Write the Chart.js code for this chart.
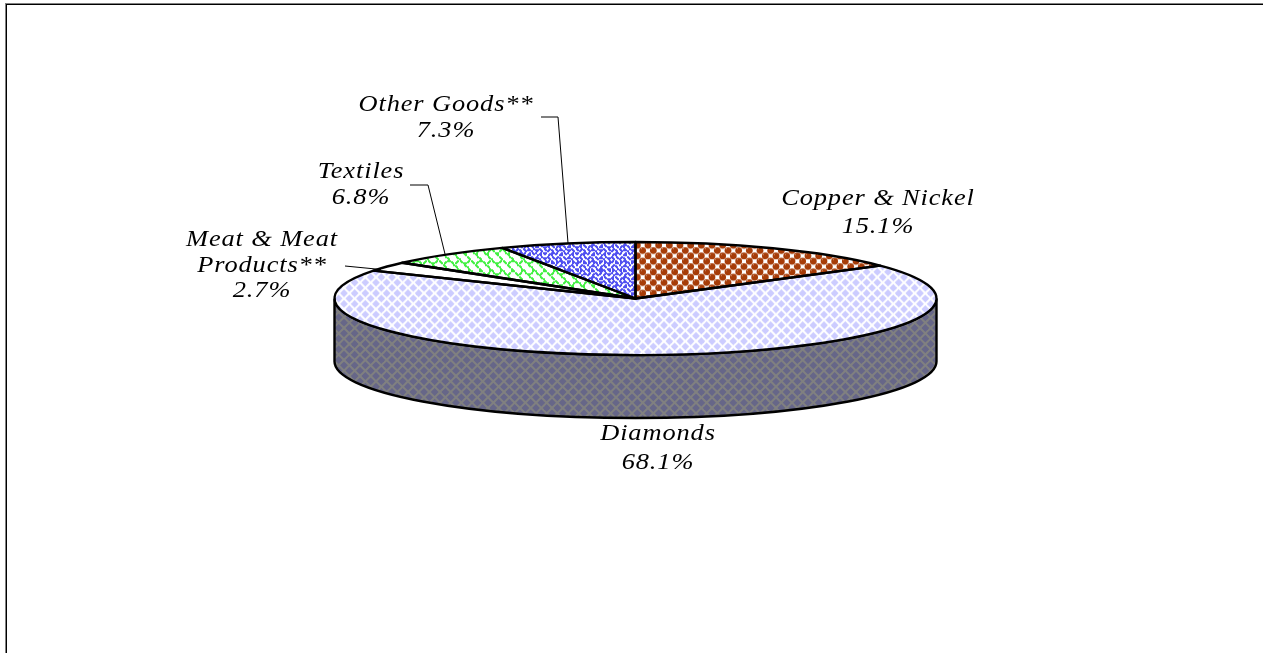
<!DOCTYPE html>
<html>
<head>
<meta charset="utf-8">
<title>Exports</title>
<script src="https://cdn.jsdelivr.net/npm/chart.js@4"></script>
<style>
    html, body { margin: 0; padding: 0; background: #fff; overflow: hidden; }
    canvas { display: block; }
</style>
</head>
<body>
<canvas id="chart" width="1263" height="653"></canvas>
<script>
// Data
const categories = ['Copper & Nickel', 'Diamonds', 'Meat & Meat Products**', 'Textiles', 'Other Goods**'];
const shares = [15.1, 68.1, 2.7, 6.8, 7.3];

// Where the labels and leader lines sit
const labelLines = [['Copper & Nickel'], ['Diamonds'], ['Meat & Meat', 'Products**'], ['Textiles'], ['Other Goods**']];
const labelCentres = [[878, 199], [658, 434], [262, 240], [361, 172], [446, 105]];
const labelLineGap = [28, 29, 25.5, 26, 26];
const leaders = [
    [[345, 266], [381, 269.5]],
    [[410, 185], [428, 185], [445, 254]],
    [[541, 117], [558, 117], [568, 243]]
];

// Pie is a flat circle squashed onto an ellipse, with a wall below it
const centreX = 635.5;
const centreY = 298.5;
const radiusX = 301;
const radiusY = 56.5;
const wallDepth = 63;
const squash = radiusY / radiusX;

const scaleStep = 4 / 3;
const textStretch = 1.1;

function newTile(bg) {
    const tile = document.createElement('canvas');
    tile.width = tile.height = 32;
    const c = tile.getContext('2d');
    c.fillStyle = bg;
    c.fillRect(0, 0, 32, 32);
    return { tile, c };
}

// Fill tile from an 8x8 bitmap, three repeats at 4/3 size, pixels grown a little
function bitmapPattern(rows, fg, bg) {
    const { tile, c } = newTile(bg);
    c.fillStyle = fg;
    for (let j = 0; j < 24; j++) {
        for (let i = 0; i < 24; i++) {
            if (rows[j % 8][i % 8] === '1') {
                const x0 = Math.round(i * scaleStep), y0 = Math.round(j * scaleStep);
                c.fillRect(x0, y0, 2, 2);
                // wrap round the edge of the tile
                if (x0 === 31) c.fillRect(0, y0, 1, 2);
                if (y0 === 31) c.fillRect(x0, 0, 2, 1);
            }
        }
    }
    return tile;
}

// Staggered marks on a 10.67px grid
function staggeredPattern(bg, drawMark) {
    const { tile, c } = newTile(bg);
    const step = 32 / 6;
    for (let j = -1; j <= 6; j++) {
        for (let i = -1; i <= 6; i++) {
            if ((i + j) % 2 === 0) drawMark(c, i * step + step / 2, j * step + step / 2);
        }
    }
    return tile;
}

function diamondMark(colour) {
    return (c, x, y) => {
        const r = 3.9;
        c.fillStyle = colour;
        c.beginPath();
        c.moveTo(x - r, y);
        c.lineTo(x, y - r);
        c.lineTo(x + r, y);
        c.lineTo(x, y + r);
        c.closePath();
        c.fill();
    };
}

function beadMark(c, x, y) {
    c.fillStyle = '#a63c08';
    c.beginPath();
    c.arc(x, y, 3.4, 0, Math.PI * 2);
    c.fill();
    c.fillStyle = '#cf8a66';
    c.fillRect(Math.round(x) - 2, Math.round(y) - 2, 1, 1);
}

const ctxForPatterns = document.getElementById('chart').getContext('2d');

// Patterns on the top face get undone against the squash so they stay square
function topFill(tile) {
    const pattern = ctxForPatterns.createPattern(tile, 'repeat');
    pattern.setTransform(new DOMMatrix().scale(1, 1 / squash));
    return pattern;
}

const brickRows = [
    '10000000',
    '01000001',
    '00100010',
    '00010100',
    '00001000',
    '00000100',
    '00000010',
    '00000001'
];
const weaveRows = [
    '10001000',
    '01010100',
    '00100010',
    '01000101',
    '10001000',
    '00010100',
    '00100010',
    '01010001'
];

const sliceFills = [
    topFill(staggeredPattern('#ffffff', beadMark)),
    topFill(staggeredPattern('#ffffff', diamondMark('#ccccff'))),
    '#ffffff',
    topFill(bitmapPattern(brickRows, '#44f044', '#ffffff')),
    topFill(bitmapPattern(weaveRows, '#5050f0', '#ffffff'))
];
const wallFill = ctxForPatterns.createPattern(staggeredPattern('#808080', diamondMark('#666688')), 'repeat');

const piePlugin = {
    id: 'tiltedPie',
    beforeDraw(chart) {
        const ctx = chart.ctx;
        ctx.save();
        ctx.fillStyle = '#ffffff';
        ctx.fillRect(0, 0, chart.width, chart.height);
        // Frame: only top and left are inside the photo
        ctx.fillStyle = '#808080';
        ctx.fillRect(5, 3, chart.width - 5, 1);
        ctx.fillRect(5, 3, 1, chart.height - 3);
        ctx.fillStyle = '#000000';
        ctx.fillRect(6, 4, chart.width - 6, 1);
        ctx.fillRect(6, 4, 1, chart.height - 4);
        ctx.restore();
    },
    beforeDatasetsDraw(chart) {
        const ctx = chart.ctx;
        // Wall under the front half
        ctx.save();
        ctx.beginPath();
        ctx.ellipse(centreX, centreY, radiusX, radiusY, 0, 0, Math.PI);
        ctx.lineTo(centreX - radiusX, centreY + wallDepth);
        ctx.ellipse(centreX, centreY + wallDepth, radiusX, radiusY, 0, Math.PI, 0, true);
        ctx.closePath();
        ctx.fillStyle = wallFill;
        ctx.fill();
        ctx.lineWidth = 2.4;
        ctx.strokeStyle = '#000';
        ctx.stroke();
        ctx.restore();

        const first = chart.getDatasetMeta(0).data[0];
        ctx.save();
        ctx.translate(centreX, centreY);
        ctx.scale(1, squash);
        ctx.translate(-first.x, -first.y);
    },
    afterDatasetsDraw(chart) {
        const ctx = chart.ctx;
        ctx.restore();

        // Outlines are built under the squash but stroked without it, for an even pen
        ctx.save();
        ctx.lineWidth = 2.4;
        ctx.strokeStyle = '#000';
        ctx.lineJoin = 'round';
        chart.getDatasetMeta(0).data.forEach(arc => {
            const p = arc.getProps(['startAngle', 'endAngle', 'outerRadius']);
            ctx.beginPath();
            ctx.ellipse(centreX, centreY, radiusX, radiusY, 0, p.startAngle, p.endAngle);
            ctx.lineTo(centreX, centreY);
            ctx.closePath();
            ctx.stroke();
        });

        // Leader lines
        ctx.lineWidth = 1;
        leaders.forEach(points => {
            ctx.beginPath();
            points.forEach(([x, y], i) => (i ? ctx.lineTo(x, y) : ctx.moveTo(x, y)));
            ctx.stroke();
        });

        // Labels, the original type is drawn wide
        ctx.fillStyle = '#000';
        ctx.font = 'italic 24px "Liberation Serif"';
        ctx.letterSpacing = '0.8px';
        ctx.textAlign = 'center';
        ctx.textBaseline = 'middle';
        const putText = (text, x, y) => {
            ctx.save();
            ctx.translate(x, y);
            ctx.scale(textStretch, 1);
            ctx.fillText(text, 0, 0);
            ctx.restore();
        };
        labelLines.forEach((lines, i) => {
            const [x, y] = labelCentres[i];
            const gap = labelLineGap[i];
            lines.forEach((line, k) => putText(line, x, y + k * gap));
            putText(shares[i].toFixed(1) + '%', x, y + lines.length * gap);
        });
        ctx.restore();
    }
};

new Chart(document.getElementById('chart'), {
    type: 'pie',
    data: {
        labels: categories,
        datasets: [{
            data: shares,
            backgroundColor: sliceFills,
            borderWidth: 0,
            radius: radiusX,
            clip: false
        }]
    },
    options: {
        responsive: false,
        animation: false,
        devicePixelRatio: 1,
        layout: { padding: { left: 2 * centreX - 1263 } },
        plugins: {
            legend: { display: false },
            tooltip: { enabled: false }
        }
    },
    plugins: [piePlugin]
});
</script>
</body>
</html>
